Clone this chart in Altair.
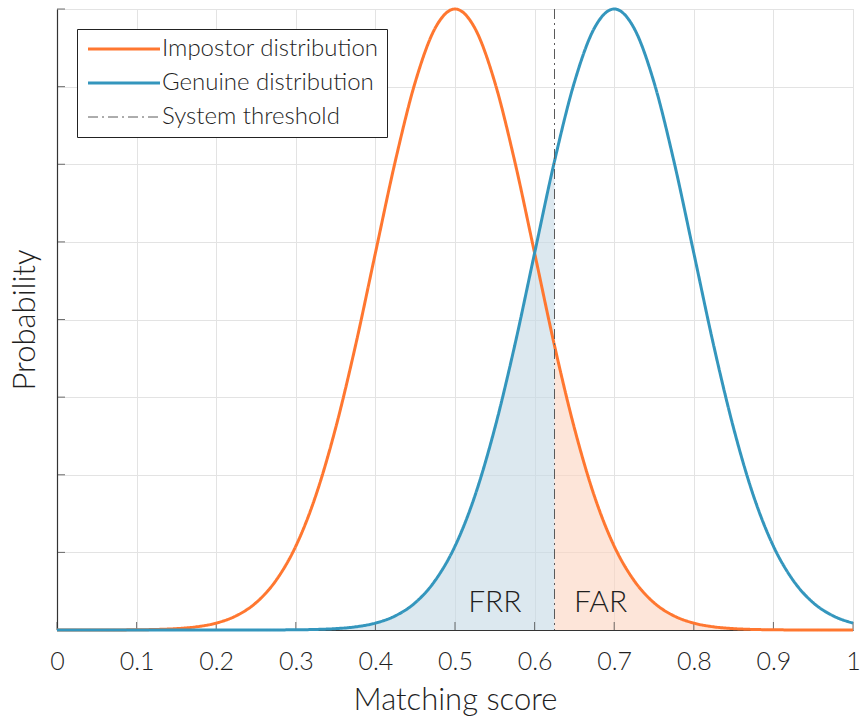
import altair as alt
import pandas as pd

# Matching score grid (every 0.025)
scores = [0.000, 0.025, 0.050, 0.075, 0.100, 0.125, 0.150, 0.175, 0.200, 0.225,
          0.250, 0.275, 0.300, 0.325, 0.350, 0.375, 0.400, 0.425, 0.450, 0.475,
          0.500, 0.525, 0.550, 0.575, 0.600, 0.625, 0.650, 0.675, 0.700, 0.725,
          0.750, 0.775, 0.800, 0.825, 0.850, 0.875, 0.900, 0.925, 0.950, 0.975, 1.000]

impostor = [0.0, 0.00001, 0.00004, 0.00012, 0.00034, 0.00088, 0.0022, 0.0051, 0.0111, 0.0228,
            0.0439, 0.0796, 0.135, 0.216, 0.325, 0.458, 0.607, 0.755, 0.882, 0.969,
            1.0, 0.969, 0.882, 0.755, 0.607, 0.458, 0.325, 0.216, 0.135, 0.0796,
            0.0439, 0.0228, 0.0111, 0.0051, 0.0022, 0.00088, 0.00034, 0.00012, 0.00004, 0.00001, 0.0]

genuine = [0.0, 0.0, 0.0, 0.0, 0.0, 0.0, 0.0, 0.0, 0.0, 0.00001,
           0.00004, 0.00012, 0.00034, 0.00088, 0.0022, 0.0051, 0.0111, 0.0228, 0.0439, 0.0796,
           0.135, 0.216, 0.325, 0.458, 0.607, 0.755, 0.882, 0.969, 1.0, 0.969,
           0.882, 0.755, 0.607, 0.458, 0.325, 0.216, 0.135, 0.0796, 0.0439, 0.0228, 0.0111]

threshold = 0.625

series_names = ["Impostor distribution", "Genuine distribution", "System threshold"]
series_colors = ["#ff7730", "#3496bd", "#5a5a5a"]
series_dash = [[1, 0], [1, 0], [10, 4, 2, 4]]
series_width = [3, 3, 1]

x_ticks = [0, 0.1, 0.2, 0.3, 0.4, 0.5, 0.6, 0.7, 0.8, 0.9, 1.0]
y_ticks = [0, 0.125, 0.25, 0.375, 0.5, 0.625, 0.75, 0.875, 1.0]

region_labels = ["FRR", "FAR"]
region_x = [0.55, 0.683]
region_y = [0.044, 0.044]

FONT = "Lato"
W = 300
TEXT = "#1f1f1f"

wide = pd.DataFrame({"score": scores, "impostor": impostor, "genuine": genuine})
long = pd.concat([
    pd.DataFrame({"score": scores, "p": impostor, "series": series_names[0]}),
    pd.DataFrame({"score": scores, "p": genuine, "series": series_names[1]}),
])
thr_df = pd.DataFrame({"score": [threshold], "series": [series_names[2]]})
xt_df = pd.DataFrame({"t": x_ticks})
yt_df = pd.DataFrame({"t": y_ticks})
lab_df = pd.DataFrame({"label": region_labels, "x": region_x, "y": region_y})

xscale = alt.Scale(domain=[0, 1], nice=False, zero=False)
yscale = alt.Scale(domain=[0, 1], nice=False)

xaxis = alt.Axis(values=x_ticks, format="~g", grid=True, gridColor="#e3e3e3",
                 domainColor="#333333", domainWidth=1.2, ticks=False,
                 labelFont=FONT, labelFontSize=25, labelFontWeight=W, labelColor=TEXT,
                 labelBaseline="alphabetic", labelPadding=39, labelFlush=False,
                 title="Matching score", titleFont=FONT, titleFontSize=31,
                 titleFontWeight=W, titleColor=TEXT,
                 titleBaseline="alphabetic", titleY=79)
yaxis = alt.Axis(values=y_ticks, labels=False, grid=True, gridColor="#e3e3e3",
                 domainColor="#333333", domainWidth=1.2, ticks=False,
                 title="Probability", titleFont=FONT, titleFontSize=31,
                 titleFontWeight=W, titleColor=TEXT,
                 titleX=-32, titleBaseline="middle")

legend = alt.Legend(
    title=None, orient="top-left", offset=20,
    fillColor="white", strokeColor="#222222", padding=8,
    labelFont=FONT, labelFontSize=24, labelFontWeight=W, labelColor=TEXT,
    labelLimit=0, labelOffset=26,
    symbolType="M-4,0H4", symbolSize=324, symbolOffset=27,
    rowPadding=10,
)

color_enc = alt.Color("series:O", scale=alt.Scale(domain=series_names, range=series_colors),
                      legend=legend)
dash_enc = alt.StrokeDash("series:O", scale=alt.Scale(domain=series_names, range=series_dash))
width_enc = alt.StrokeWidth("series:O", scale=alt.Scale(type="ordinal", domain=series_names,
                                                         range=series_width))

base_x = alt.X("score:Q", scale=xscale, axis=xaxis)

area_frr = alt.Chart(wide).transform_filter(f"datum.score <= {threshold}").mark_area(
    color="#c4d8e4", opacity=0.6, interpolate="monotone").encode(
    x=base_x, y=alt.Y("genuine:Q", scale=yscale, axis=yaxis))
area_far = alt.Chart(wide).transform_filter(f"datum.score >= {threshold}").mark_area(
    color="#fcd4bf", opacity=0.6, interpolate="monotone").encode(
    x=alt.X("score:Q"), y=alt.Y("impostor:Q"))

line_imp = alt.Chart(long).transform_filter(f"datum.series == '{series_names[0]}'").mark_line(
    interpolate="monotone").encode(
    x="score:Q", y="p:Q", color=color_enc, strokeDash=dash_enc, strokeWidth=width_enc)
line_gen = alt.Chart(long).transform_filter(f"datum.series == '{series_names[1]}'").mark_line(
    interpolate="monotone").encode(
    x="score:Q", y="p:Q", color=color_enc, strokeDash=dash_enc, strokeWidth=width_enc)
rule = alt.Chart(thr_df).mark_rule().encode(
    x="score:Q", color=color_enc, strokeDash=dash_enc, strokeWidth=width_enc)

xt = alt.Chart(xt_df).mark_tick(orient="vertical", size=8, thickness=1, color="#333333",
                                yOffset=-4).encode(x="t:Q", y=alt.datum(0))
yt = alt.Chart(yt_df).mark_tick(orient="horizontal", size=8, thickness=1, color="#333333",
                                xOffset=4).encode(y="t:Q", x=alt.datum(0))

labels = alt.Chart(lab_df).mark_text(font=FONT, fontSize=30, fontWeight=W, color=TEXT,
                                     baseline="middle", align="center").encode(
    x="x:Q", y="y:Q", text="label:N")

chart = alt.layer(area_frr, area_far, xt, yt, line_imp, line_gen, rule, labels).properties(
    width=796, height=621,
    autosize=alt.AutoSizeParams(type="none"),
    padding={"left": 57, "top": 9, "right": 7, "bottom": 86},
).configure_view(stroke=None).configure(background="white")

chart.save("out.html", embed_options={"renderer": "svg", "actions": False})
